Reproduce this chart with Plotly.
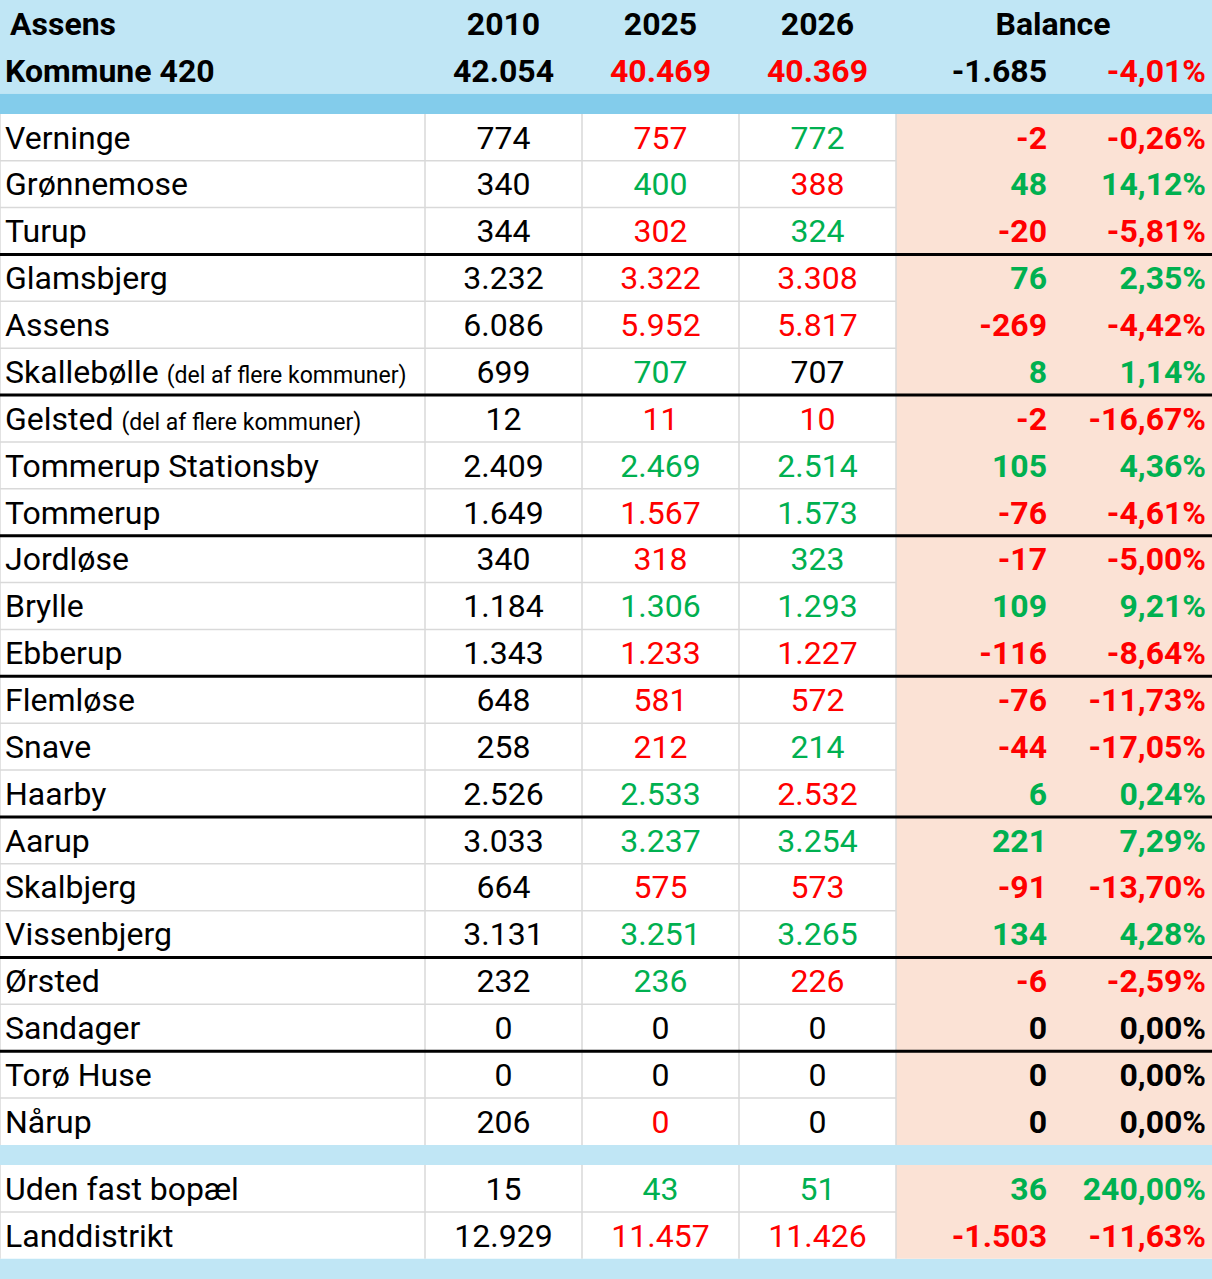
import plotly.graph_objects as go

# --- data -------------------------------------------------------------
names = ["Verninge", "Grønnemose", "Turup", "Glamsbjerg", "Assens",
         "Skallebølle", "Gelsted", "Tommerup Stationsby", "Tommerup",
         "Jordløse", "Brylle", "Ebberup", "Flemløse", "Snave", "Haarby",
         "Aarup", "Skalbjerg", "Vissenbjerg", "Ørsted", "Sandager",
         "Torø Huse", "Nårup"]
notes = {"Skallebølle": "(del af flere kommuner)",
         "Gelsted": "(del af flere kommuner)"}
pop_2010 = [774, 340, 344, 3232, 6086, 699, 12, 2409, 1649, 340, 1184, 1343,
            648, 258, 2526, 3033, 664, 3131, 232, 0, 0, 206]
pop_2025 = [757, 400, 302, 3322, 5952, 707, 11, 2469, 1567, 318, 1306, 1233,
            581, 212, 2533, 3237, 575, 3251, 236, 0, 0, 0]
pop_2026 = [772, 388, 324, 3308, 5817, 707, 10, 2514, 1573, 323, 1293, 1227,
            572, 214, 2532, 3254, 573, 3265, 226, 0, 0, 0]
balance = [-2, 48, -20, 76, -269, 8, -2, 105, -76, -17, 109, -116,
           -76, -44, 6, 221, -91, 134, -6, 0, 0, 0]
balance_pct = [-0.26, 14.12, -5.81, 2.35, -4.42, 1.14, -16.67, 4.36, -4.61,
               -5.00, 9.21, -8.64, -11.73, -17.05, 0.24, 7.29, -13.70, 4.28,
               -2.59, 0.00, 0.00, 0.00]
# colour codes as in the sheet: r = red, g = green, k = black
col_2025 = list("rgrrrgrgrrgrrrggrggkkr")
col_2026 = list("grgrrkrggggrrgrgrgrkkk")
col_bal = list("rgrgrgrgrrgrrrggrgrkkk")
group_ends = [2, 5, 8, 11, 14, 17, 19]

extra_names = ["Uden fast bopæl", "Landdistrikt"]
extra_2010 = [15, 12929]
extra_2025 = [43, 11457]
extra_2026 = [51, 11426]
extra_balance = [36, -1503]
extra_pct = [240.00, -11.63]
extra_col_2025 = list("gr")
extra_col_2026 = list("gr")
extra_col_bal = list("gr")

title_1 = "Assens"
title_2 = "Kommune 420"
years = ["2010", "2025", "2026"]
total_pop = [42054, 40469, 40369]
total_col = list("krr")
total_balance = -1685
total_pct = -4.01
total_bal_col = "k"
total_pct_col = "r"

# --- styling ----------------------------------------------------------
COLORS = {"r": "#FF0000", "g": "#00B050", "k": "#000000"}
LIGHT_BLUE = "#C0E6F5"
DARK_BLUE = "#83CCEB"
PINK = "#FBE2D5"
GRID = "#D9D9D9"
FONT = "Roboto, Liberation Sans, sans-serif"
FS = 32
DY = 0.07  # text sits a little low in the cells, like Excel

col_w = [425, 157, 157, 157, 157, 159]
edges = [0]
for w in col_w:
    edges.append(edges[-1] + w)
band = 0.43


def fmt_int(v):
    return f"{v:,}".replace(",", ".")


def fmt_pct(v):
    return f"{v:.2f}".replace(".", ",") + "%"


# vertical layout in row units
header_y = [0.5 + DY, 1.5 + DY]
data_top = 2 + band
data_y = [data_top + i + 0.5 + DY for i in range(len(names))]
extra_top = data_top + len(names) + band
extra_y = [extra_top + i + 0.5 + DY for i in range(len(extra_names))]
total_h = extra_top + len(extra_names) + band

fig = go.Figure()
shapes = []

# backgrounds
shapes.append(dict(type="rect", x0=edges[0], x1=edges[-1], y0=0, y1=2,
                   fillcolor=LIGHT_BLUE, line_width=0, layer="below"))
shapes.append(dict(type="rect", x0=edges[0], x1=edges[-1], y0=2, y1=data_top,
                   fillcolor=DARK_BLUE, line_width=0, layer="below"))
shapes.append(dict(type="rect", x0=edges[0], x1=edges[-1],
                   y0=data_top + len(names), y1=extra_top,
                   fillcolor=LIGHT_BLUE, line_width=0, layer="below"))
shapes.append(dict(type="rect", x0=edges[0], x1=edges[-1],
                   y0=extra_top + len(extra_names), y1=total_h,
                   fillcolor=LIGHT_BLUE, line_width=0, layer="below"))
for y0, y1 in [(data_top, data_top + len(names)),
               (extra_top, extra_top + len(extra_names))]:
    shapes.append(dict(type="rect", x0=edges[4], x1=edges[-1], y0=y0, y1=y1,
                       fillcolor=PINK, line_width=0, layer="below"))
    # thin grid
    for xe in edges[:5]:
        shapes.append(dict(type="line", x0=xe, x1=xe, y0=y0, y1=y1,
                           line=dict(color=GRID, width=1.5), layer="below"))
    n = int(round(y1 - y0))
    for i in range(1, n):
        shapes.append(dict(type="line", x0=edges[0], x1=edges[4],
                           y0=y0 + i, y1=y0 + i,
                           line=dict(color=GRID, width=1.5), layer="below"))

# thick group separators
for g in group_ends:
    yy = data_top + g + 1
    shapes.append(dict(type="line", x0=edges[0], x1=edges[-1], y0=yy, y1=yy,
                       line=dict(color="#000000", width=3), layer="below"))

fig.update_layout(shapes=shapes)


def add_text(xs, ys, texts, colors, pos):
    fig.add_trace(go.Scatter(
        x=xs, y=ys, text=texts, mode="text", textposition=pos,
        textfont=dict(family=FONT, size=FS, color=colors),
        hoverinfo="skip", showlegend=False))


# header
add_text([edges[0] + 10, edges[0] + 5], header_y,
         [f"<b>{title_1}</b>", f"<b>{title_2}</b>"], ["#000000"] * 2,
         "middle right")
for j, yr in enumerate(years):
    cx = (edges[j + 1] + edges[j + 2]) / 2
    add_text([cx, cx], header_y,
             [f"<b>{yr}</b>", f"<b>{fmt_int(total_pop[j])}</b>"],
             ["#000000", COLORS[total_col[j]]], "middle center")
add_text([edges[5]], [header_y[0]], ["<b>Balance</b>"], ["#000000"],
         "middle center")
add_text([edges[5] - 6], [header_y[1]], [f"<b>{fmt_int(total_balance)}</b>"],
         [COLORS[total_bal_col]], "middle left")
add_text([edges[6] - 6], [header_y[1]], [f"<b>{fmt_pct(total_pct)}</b>"],
         [COLORS[total_pct_col]], "middle left")


def add_block(ys, nm, p10, p25, p26, bal, pct, c25, c26, cb):
    labels = []
    for s in nm:
        if s in notes:
            labels.append(f"{s} <span style='font-size:23px'>{notes[s]}</span>")
        else:
            labels.append(s)
    add_text([edges[0] + 5] * len(ys), ys, labels, ["#000000"] * len(ys),
             "middle right")
    for j, (vals, cols) in enumerate([(p10, ["k"] * len(ys)), (p25, c25),
                                      (p26, c26)]):
        cx = (edges[j + 1] + edges[j + 2]) / 2
        add_text([cx] * len(ys), ys, [fmt_int(v) for v in vals],
                 [COLORS[c] for c in cols], "middle center")
    add_text([edges[5] - 6] * len(ys), ys,
             [f"<b>{fmt_int(v)}</b>" for v in bal],
             [COLORS[c] for c in cb], "middle left")
    add_text([edges[6] - 6] * len(ys), ys,
             [f"<b>{fmt_pct(v)}</b>" for v in pct],
             [COLORS[c] for c in cb], "middle left")


add_block(data_y, names, pop_2010, pop_2025, pop_2026, balance, balance_pct,
          col_2025, col_2026, col_bal)
add_block(extra_y, extra_names, extra_2010, extra_2025, extra_2026,
          extra_balance, extra_pct, extra_col_2025, extra_col_2026,
          extra_col_bal)

fig.update_xaxes(range=[edges[0], edges[-1]], visible=False, fixedrange=True)
fig.update_yaxes(range=[total_h, 0], visible=False, fixedrange=True)
fig.update_layout(width=1212, height=1279, margin=dict(l=0, r=0, t=0, b=0),
                  plot_bgcolor="white", paper_bgcolor="white",
                  font=dict(family=FONT))

fig.write_html("out.html", config={"displayModeBar": False},
               post_script="document.body.style.margin='0';")
